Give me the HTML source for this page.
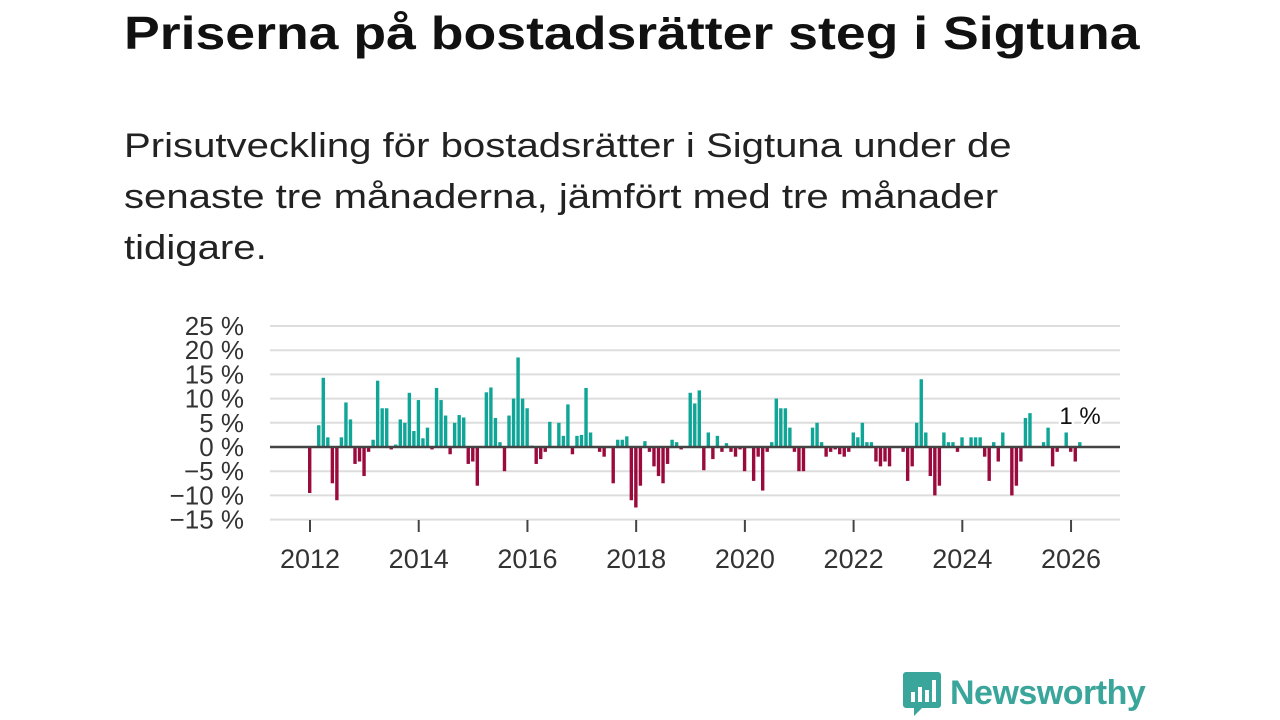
<!DOCTYPE html>
<html><head><meta charset="utf-8">
<style>
body{margin:0;width:1280px;height:720px;background:#fff;font-family:"Liberation Sans","DejaVu Sans",sans-serif;overflow:hidden;position:relative;color:#111}
h1{position:absolute;left:124px;top:6px;margin:0;font-size:46px;font-weight:bold;white-space:nowrap;transform:scaleX(1.165);transform-origin:left top}
p{position:absolute;left:124px;top:121px;margin:0;font-size:34px;line-height:51px;white-space:nowrap;color:#222;transform:scaleX(1.18);transform-origin:left top}
#logo{position:absolute;left:902px;top:670px;display:flex;align-items:center}
#logo span{font-size:34px;font-weight:bold;color:#3aa59a;margin-left:8px;letter-spacing:-0.5px}
</style></head><body>
<h1>Priserna på bostadsrätter steg i Sigtuna</h1>
<p>Prisutveckling för bostadsrätter i Sigtuna under de<br>senaste tre månaderna, jämfört med tre månader<br>tidigare.</p>
<svg id="chart" width="1280" height="720" style="position:absolute;left:0;top:0"></svg>
<div id="logo">
<svg width="40" height="46" viewBox="0 0 40 46"><path d="M4 2h32a3 3 0 0 1 3 3v30a3 3 0 0 1-3 3H20l-8 8v-8H4a3 3 0 0 1-3-3V5a3 3 0 0 1 3-3z" fill="#3aa59a"/><rect x="9" y="22" width="4" height="10" fill="#fff"/><rect x="16" y="17" width="4" height="15" fill="#fff"/><rect x="23" y="20" width="4" height="12" fill="#fff"/><rect x="30" y="10" width="4" height="22" fill="#fff"/></svg>
<span>Newsworthy</span></div>
<script>
const yTicks=[25,20,15,10,5,0,-5,-10,-15];
const xTicks=[2012,2014,2016,2018,2020,2022,2024,2026];
const startYear=2012;
const values=[
-9.5,0,4.5,14.3,2,-7.5,-11,2,9.2,5.7,-3.5,-3,
-6,-1,1.5,13.7,8,8,-0.5,0.5,5.7,5,11.2,3.3,
9.7,1.8,4,-0.5,12.2,9.7,6.5,-1.5,5,6.6,6.1,-3.5,
-3,-8,0,11.3,12.3,6,1,-5,6.5,10,18.5,10,
8,0.3,-3.5,-2.5,-1,5.2,0,5,2.3,8.8,-1.5,2.3,
2.5,12.2,3,0,-1,-2,0,-7.5,1.5,1.5,2.2,-11,
-12.5,-8,1.2,-1,-4,-6,-7.5,-3.5,1.5,1,-0.5,0,
11.2,9,11.7,-4.8,3,-2.5,2.3,-1,0.8,-1,-2,-0.5,
-5,0,-7,-2,-9,-1,1,10,8,8,4,-1,
-5,-5,0,4,5,1,-2,-1,-0.5,-1.5,-2,-1,
3,2,5,1,1,-3,-4,-3,-4,0,0,-1,
-7,-4,5,14,3,-6,-10,-8,3,1,1,-1,
2,0,2,2,2,-2,-7,1,-3,3,0,-10,
-8,-3,6,7,0,0,1,4,-4,-1,0,3,
-1,-3,1];
const lastLabel="1 %";
const NS="http://www.w3.org/2000/svg";
const svg=document.getElementById('chart');
const y=v=>447-v*4.84;
const x=m=>310+m*4.53;
function el(t,a){const e=document.createElementNS(NS,t);for(const k in a)e.setAttribute(k,a[k]);svg.appendChild(e);return e;}
yTicks.forEach(t=>{
 if(t!==0){const g=el('line',{x1:270,x2:1120,y1:y(t),y2:y(t),stroke:'#ddd','stroke-width':2});
 
 }
 const l=el('text',{x:244,y:y(t)+9,'text-anchor':'end','font-size':26,fill:'#333'});
 l.textContent=(t<0?'\u2212'+(-t):t)+' %';
 
 
});
values.forEach((v,i)=>{
 const r=el('rect',{x:x(i)-2,width:3.4,y:Math.min(y(v),y(0)),height:Math.abs(y(v)-y(0)),fill:v>=0?'#0fa597':'#9b0a3c'});
 
 
});
const z=el('line',{x1:270,x2:1120,y1:y(0),y2:y(0),stroke:'#444','stroke-width':2.5});


xTicks.forEach(t=>{
 const xx=x((t-startYear)*12);
 const tk=el('line',{x1:xx,x2:xx,y1:520,y2:532,stroke:'#444','stroke-width':2});
 
 
 const l=el('text',{x:xx,y:568,'text-anchor':'middle','font-size':27,fill:'#333'});
 l.textContent=t;
 
 
});
const li=values.length-1;
const lb=el('text',{x:x(li),y:y(values[li])-18,'text-anchor':'middle','font-size':24,fill:'#111',stroke:'#fff','stroke-width':5,'paint-order':'stroke'});
lb.textContent=lastLabel;


</script>
</body></html>
